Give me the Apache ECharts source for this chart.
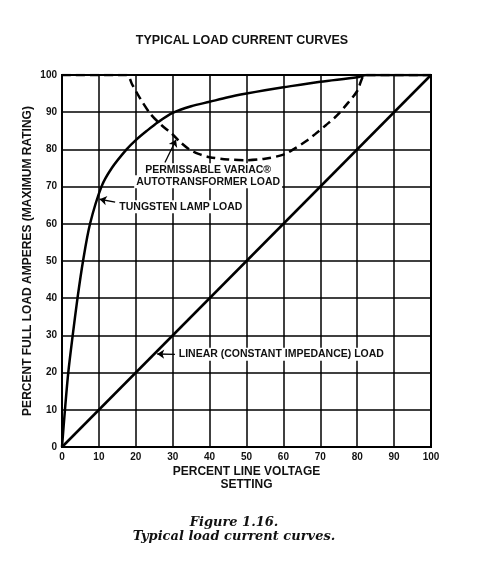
<!DOCTYPE html>
<html>
<head>
    <meta charset="utf-8">
    <title>Typical load current curves</title>
    <script src="https://cdn.jsdelivr.net/npm/echarts@6/dist/echarts.min.js"></script>
    <style>
        html, body { margin: 0; padding: 0; background: #fff; }
    </style>
</head>
<body>
    <div id="main" style="width: 482px;height:563px;"></div>
    <script type="text/javascript">
        // values (percent line voltage -> percent full load amperes)
        var tungsten_x = [0, 0.8, 1.7, 2.9, 4.2, 5.7, 7.6, 10.7, 13.5, 17.5, 20, 23, 26, 30, 35, 40, 45, 50, 55, 60, 70, 80, 82.5, 100];
        var tungsten_y = [0, 10, 20, 30, 40, 50, 60, 70, 75, 80, 82.5, 85, 87.3, 89.8, 91.6, 92.8, 94, 95, 95.9, 96.7, 98.2, 99.4, 100, 100];

        var variac_x = [0, 17.5, 19, 21, 24, 27, 30, 32, 34.5, 37, 40, 45, 50, 55, 60, 63, 66.3, 68.6, 71.5, 74.4, 77.5, 80, 81.2, 82, 100];
        var variac_y = [100, 100, 97.5, 94, 89.5, 86.5, 84, 82, 80, 78.8, 77.9, 77.3, 77.1, 77.5, 78.6, 80.2, 82.3, 84.1, 86.5, 89, 92.5, 95.7, 98.8, 100, 100];

        var linear_x = [0, 100];
        var linear_y = [0, 100];

        var tick_values = [0, 10, 20, 30, 40, 50, 60, 70, 80, 90, 100];

        function pairs(xs, ys) {
            var out = [];
            for (var i = 0; i < xs.length; i++) {
                out.push([xs[i], ys[i]]);
            }
            return out;
        }

        var FONT = '"Liberation Sans", Arial, sans-serif';
        var SERIF = '"DejaVu Serif", "Liberation Serif", serif';

        var myChart = echarts.init(document.getElementById('main'));

        var axisCommon = {
            type: 'value',
            min: tick_values[0],
            max: tick_values[tick_values.length - 1],
            interval: 10,
            axisTick: { show: false },
            axisLine: { show: true, lineStyle: { color: '#000', width: 2 } },
            splitLine: { show: true, lineStyle: { color: '#000', width: 1.5 } },
            axisLabel: { color: '#111', fontFamily: FONT, fontWeight: 'bold', fontSize: 10 },
            nameLocation: 'middle',
            nameMoveOverlap: false,
            nameTextStyle: { color: '#111', fontFamily: FONT, fontWeight: 'bold', fontSize: 12 }
        };

        var option = {
            backgroundColor: '#fff',
            animation: false,
            title: [
                {
                    text: 'TYPICAL LOAD CURRENT CURVES',
                    left: 237,
                    textAlign: 'center',
                    top: 29,
                    textStyle: { color: '#111', fontFamily: FONT, fontWeight: 'bold', fontSize: 12.5 }
                },
                {
                    text: 'Figure 1.16.',
                    left: 229,
                    textAlign: 'center',
                    top: 511,
                    textStyle: { color: '#111', fontFamily: SERIF, fontStyle: 'italic', fontWeight: 'bold', fontSize: 13 }
                },
                {
                    text: 'Typical load current curves.',
                    left: 229,
                    textAlign: 'center',
                    top: 525,
                    textStyle: { color: '#111', fontFamily: SERIF, fontStyle: 'italic', fontWeight: 'bold', fontSize: 13 }
                }
            ],
            grid: {
                left: 62, right: 51, top: 75, bottom: 116,
                show: true, borderColor: '#000', borderWidth: 2
            },
            xAxis: echarts.util.merge({
                name: 'PERCENT LINE VOLTAGE\nSETTING',
                nameGap: 18,
                nameTextStyle: { lineHeight: 13 },
                axisLabel: { margin: 5 }
            }, axisCommon),
            yAxis: echarts.util.merge({
                name: 'PERCENT FULL LOAD AMPERES (MAXIMUM RATING)',
                nameGap: 28,
                axisLabel: { margin: 5 }
            }, axisCommon),
            series: [
                {
                    name: 'Tungsten lamp load',
                    type: 'line',
                    data: pairs(tungsten_x, tungsten_y),
                    smooth: 0.3,
                    symbol: 'none',
                    lineStyle: { color: '#000', width: 2.5 }
                },
                {
                    name: 'Permissable Variac autotransformer load',
                    type: 'line',
                    data: pairs(variac_x, variac_y),
                    smooth: 0.3,
                    symbol: 'none',
                    lineStyle: { color: '#000', width: 2.5, type: [9, 5] }
                },
                {
                    name: 'Linear (constant impedance) load',
                    type: 'line',
                    data: pairs(linear_x, linear_y),
                    symbol: 'none',
                    lineStyle: { color: '#000', width: 2.5 },
                    markLine: {
                        silent: true,
                        symbol: ['none', 'arrow'],
                        symbolSize: 7,
                        label: { show: false },
                        lineStyle: { color: '#000', width: 1.3, type: 'solid' },
                        data: [
                            [{ coord: [14.4, 65.8] }, { coord: [10.2, 66.6] }],
                            [{ coord: [27.9, 76.5] }, { coord: [30.9, 82.6] }],
                            [{ coord: [30.6, 24.9] }, { coord: [25.8, 25] }]
                        ]
                    }
                }
            ]
        };

        myChart.setOption(option);

        // annotation texts placed in data units
        var notes = [
            { text: 'TUNGSTEN LAMP LOAD', at: [15, 64.6], align: 'left' },
            { text: 'PERMISSABLE VARIAC\u00AE', at: [39.6, 74.5], align: 'center' },
            { text: 'AUTOTRANSFORMER LOAD', at: [39.6, 71.3], align: 'center' },
            { text: 'LINEAR (CONSTANT IMPEDANCE) LOAD', at: [31.1, 24.9], align: 'left' }
        ];

        var elements = [];
        for (var i = 0; i < notes.length; i++) {
            var p = myChart.convertToPixel({ gridIndex: 0 }, notes[i].at);
            elements.push({
                type: 'text',
                x: p[0],
                y: p[1],
                z: 100,
                style: {
                    text: notes[i].text,
                    fill: '#111',
                    font: 'bold 10.5px ' + FONT,
                    align: notes[i].align,
                    verticalAlign: 'middle',
                    backgroundColor: '#fff',
                    padding: [1, 2]
                }
            });
        }
        myChart.setOption({ graphic: elements });

        window.addEventListener("resize", function(){
            myChart.resize();
        })
    </script>
</body>
</html>
